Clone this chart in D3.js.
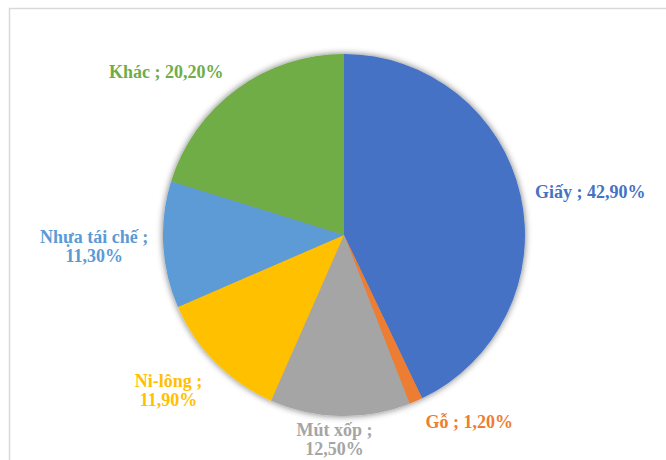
<!DOCTYPE html>
<html>
<head>
<meta charset="utf-8">
<script src="https://cdn.jsdelivr.net/npm/d3@7"></script>
<style>
  body { margin: 0; background: #fff; }
  svg { display: block; }
</style>
</head>
<body>
<script>
// data
var categories = ["Giấy", "Gỗ", "Mút xốp", "Ni-lông", "Nhựa tái chế", "Khác"];
var values = [42.9, 1.2, 12.5, 11.9, 11.3, 20.2];
var colors = ["#4472C4", "#ED7D31", "#A5A5A5", "#FFC000", "#5B9BD5", "#70AD47"];
// how each label is split on lines
var labelLines = [
    ["Giấy ; 42,90%"],
    ["Gỗ ; 1,20%"],
    ["Mút xốp ;", "12,50%"],
    ["Ni-lông ;", "11,90%"],
    ["Nhựa tái chế ;", "11,30%"],
    ["Khác ; 20,20%"]
];

const width = 666;
const height = 460;
const cx = 344, cy = 235, radius = 181;
const labelRadius = 200;
// small nudges so the labels sit like excel's best fit
var labelNudge = [[-4, 1], [2, 3], [-5, 4], [0, 14], [4, 1], [-2, -2]];

var svg = d3.select("body").append("svg")
    .attr("width", width)
    .attr("height", height);

// shadow round the pie
var defs = svg.append("defs");
var filter = defs.append("filter").attr("id", "shadow")
    .attr("x", "-20%").attr("y", "-20%").attr("width", "140%").attr("height", "140%");
filter.append("feGaussianBlur").attr("in", "SourceAlpha").attr("stdDeviation", 3.5).attr("result", "blur");
filter.append("feComponentTransfer").attr("in", "blur").attr("result", "soft")
    .append("feFuncA").attr("type", "linear").attr("slope", 0.55);
var merge = filter.append("feMerge");
merge.append("feMergeNode").attr("in", "soft");
merge.append("feMergeNode").attr("in", "SourceGraphic");

// chart frame, runs off the right and bottom
svg.append("rect")
    .attr("x", 9.5).attr("y", 8.5)
    .attr("width", 700).attr("height", 500)
    .attr("fill", "none")
    .attr("stroke", "#d9d9d9")
    .attr("stroke-width", 1.5);

var pie = d3.pie().sort(null).value(function(d) { return d; });
var arcs = pie(values);

var arc = d3.arc().innerRadius(0).outerRadius(radius);
var labelArc = d3.arc().innerRadius(labelRadius).outerRadius(labelRadius);

var group = svg.append("g")
    .attr("transform", "translate(" + cx + "," + cy + ")");

group.append("g")
    .attr("filter", "url(#shadow)")
    .selectAll("path")
    .data(arcs)
    .enter()
    .append("path")
    .attr("d", arc)
    .attr("fill", function(d, i) { return colors[i]; });

var lineH = 19;
var labels = group.selectAll("text.label")
    .data(arcs)
    .enter()
    .append("text")
    .attr("class", "label")
    .attr("font-family", "'Liberation Serif', 'Times New Roman', serif")
    .attr("font-weight", "bold")
    .attr("font-size", "18px")
    .attr("fill", function(d, i) { return colors[i]; })
    .attr("text-anchor", "middle")
    .attr("transform", function(d, i) {
        var p = labelArc.centroid(d);
        return "translate(" + (p[0] + labelNudge[i][0]) + "," + (p[1] + labelNudge[i][1]) + ")";
    });

// lines of a label are centred on each other, the block hangs off the anchor point
labels.each(function(d, i) {
    var lines = labelLines[i];
    var top = -(lines.length - 1) * lineH / 2;
    var t = d3.select(this);
    var spans = lines.map(function(l, j) {
        return t.append("tspan")
            .attr("y", top + j * lineH)
            .attr("dy", "0.35em")
            .text(l);
    });
    var w = d3.max(spans, function(s) { return s.node().getComputedTextLength(); });
    var s = Math.sin((d.startAngle + d.endAngle) / 2);
    var shift = s > 0.3 ? w / 2 : (s < -0.3 ? -w / 2 : 0);
    spans.forEach(function(sp) { sp.attr("x", shift); });
});
</script>
</body>
</html>
